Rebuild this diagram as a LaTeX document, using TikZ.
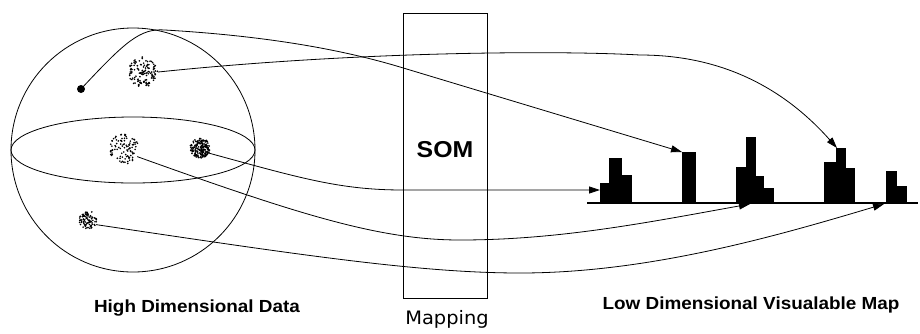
\documentclass[tikz,border=0pt]{standalone}
\usepackage{fontspec}
\setmainfont{Liberation Sans}
\newfontfamily\mapfont{DejaVu Sans}
\usetikzlibrary{arrows.meta}
\begin{document}
\begin{tikzpicture}[x=1pt,y=-1pt,
  wire/.style={line width=0.8pt, black},
  link/.style={wire, -{Triangle[length=11pt,width=7pt]}},
  bar/.style={fill=black},
  cluster/.style={circle, inner sep=0pt, minimum size=#1},
  boldlabel/.style={font=\bfseries\fontsize{17.5}{20}\selectfont, xscale=1.08},
]
\useasboundingbox (0,0) rectangle (920,333);

% sphere of the input space with its equator
\node[circle, draw, wire, inner sep=0pt, minimum size=244pt] (sphere) at (133,150) {};
\draw[wire] (sphere.center) ellipse [x radius=122, y radius=33];

% data points and clusters
\node[circle, fill=black, inner sep=0pt, minimum size=8pt] (dot) at (81,89) {};
\node[cluster=30pt] (c1) at (143,72) {};
\node[cluster=30pt] (c2) at (124,149) {};
\node[cluster=20pt] (c3) at (200,148) {};
\node[cluster=18pt] (c4) at (88,220) {};

\pgfmathsetseed{4242}
\foreach \cx/\cy/\rr/\n in {143/72/15/130, 124/149/15/100, 200/148/10/190, 88/220/9/90}{
  \foreach \k in {1,...,\n}{
    \pgfmathsetmacro\ang{rnd*360}
    \pgfmathsetmacro\rad{\rr*sqrt(rnd)}
    \fill[shift={(\cx,\cy)}] (\ang:\rad) circle[radius=0.9pt];
  }
}

% the mapping block
\node[draw, wire, minimum width=84pt, minimum height=285pt, inner sep=0pt] (som) at (445,155.5) {};
\node[font=\bfseries\fontsize{23}{26}\selectfont, xscale=1.08] (somlabel) at (445,150) {SOM};

% output map: baseline and histogram bars
\coordinate (axisL) at (587,203);
\coordinate (axisR) at (918,203);
\draw[line width=2.4pt] (axisL) -- (axisR);
\foreach \xa/\xb/\yt in {600/609/183, 609/622/158, 622/632/175,
                         682/696/152,
                         736/746/167, 746/756/137, 756/764/176, 764/774/188,
                         824/836/162, 836/846/148, 846/855/168,
                         886/897/171, 897/907/186}{
  \fill[bar] (\xa,\yt) rectangle (\xb,203);
}

% arrow targets on the map
\coordinate (tA) at (682,152);
\coordinate (tB) at (837,148);
\coordinate (tC) at (600,190);
\coordinate (tD) at (750,204);
\coordinate (tE) at (884,204);

% mapping connectors
\draw[link] (dot.center) .. controls (125,42) and (140,28) .. (165,30)
  .. controls (250,35) and (330,46) .. (400,67) -- (tA);
\draw[link] (c1.east) .. controls (350,52) and (550,50) .. (640,55)
  .. controls (730,55) and (790,95) .. (tB);
\draw[link] (c3.-30) .. controls (300,178) and (340,190) .. (403,190) -- (tC);
\draw[link] (c2.-30) .. controls (300,215) and (380,240) .. (460,240)
  .. controls (560,240) and (650,222) .. (tD);
\draw[link] (c4.-30) .. controls (300,255) and (420,273) .. (520,273)
  .. controls (650,273) and (780,235) .. (tE);

% captions
\node[boldlabel] (high) at (197,308) {High Dimensional Data};
\node[boldlabel] (low) at (751,305) {Low Dimensional Visualable Map};
\node[font=\mapfont\fontsize{18.5}{22}\selectfont, xscale=1.05] (mapping) at (447,319) {Mapping};
\end{tikzpicture}
\end{document}
